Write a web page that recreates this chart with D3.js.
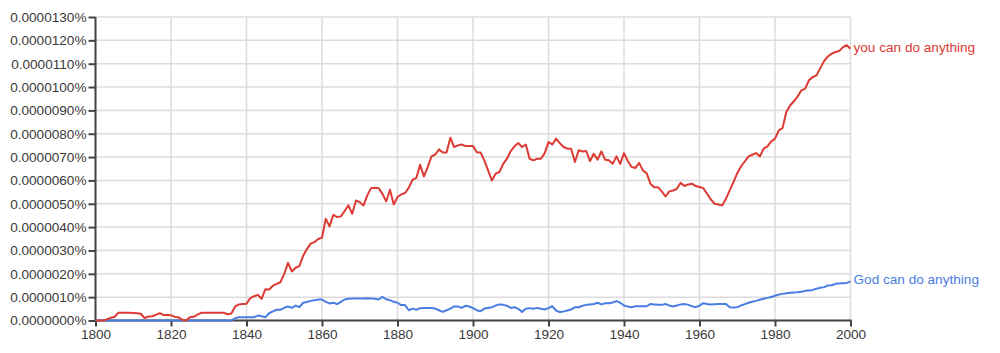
<!DOCTYPE html>
<html>
<head>
<meta charset="utf-8">
<script src="https://cdn.jsdelivr.net/npm/d3@7"></script>
<style>
  body { margin: 0; background: #fff; }
  svg { display: block; font-family: "Liberation Sans", Arial, sans-serif; }
</style>
</head>
<body>
<div id="chart"></div>
<script>
// ngram frequencies, in units of 0.0000010 %
var years = d3.range(1800, 2001)

var youCan = [
  0, 0, 0, 0.05, 0.12, 0.15, 0.33, 0.33, 0.33, 0.33,
  0.32, 0.31, 0.29, 0.10, 0.17, 0.18, 0.24, 0.31, 0.24, 0.24,
  0.23, 0.16, 0.13, 0.03, 0.00, 0.14, 0.16, 0.25, 0.33, 0.33,
  0.33, 0.33, 0.33, 0.33, 0.33, 0.27, 0.30, 0.60, 0.69, 0.71,
  0.72, 0.96, 1.04, 1.10, 0.93, 1.34, 1.33, 1.49, 1.57, 1.64,
  2.00, 2.47, 2.10, 2.26, 2.33, 2.77, 3.06, 3.29, 3.36, 3.49,
  3.55, 4.36, 4.03, 4.53, 4.43, 4.46, 4.69, 4.93, 4.57, 5.14,
  5.07, 4.93, 5.36, 5.67, 5.69, 5.67, 5.43, 5.10, 5.60, 4.97,
  5.29, 5.40, 5.46, 5.69, 6.03, 6.11, 6.67, 6.17, 6.57, 7.03,
  7.11, 7.33, 7.20, 7.20, 7.83, 7.43, 7.50, 7.54, 7.47, 7.47,
  7.47, 7.21, 7.20, 6.86, 6.43, 6.00, 6.29, 6.36, 6.71, 6.93,
  7.26, 7.46, 7.60, 7.43, 7.54, 6.93, 6.86, 6.93, 6.93, 7.17,
  7.64, 7.54, 7.79, 7.60, 7.43, 7.36, 7.36, 6.79, 7.29, 7.24,
  7.26, 6.83, 7.14, 6.89, 7.24, 6.89, 6.86, 6.71, 7.03, 6.71,
  7.17, 6.83, 6.58, 6.53, 6.75, 6.43, 6.31, 5.86, 5.71, 5.71,
  5.53, 5.31, 5.53, 5.57, 5.64, 5.90, 5.76, 5.83, 5.86, 5.76,
  5.72, 5.67, 5.43, 5.19, 5.00, 4.97, 4.93, 5.21, 5.57, 5.93,
  6.31, 6.60, 6.81, 7.03, 7.10, 7.17, 7.03, 7.36, 7.46, 7.67,
  7.79, 8.14, 8.24, 8.93, 9.21, 9.39, 9.60, 9.86, 9.93, 10.29,
  10.43, 10.50, 10.81, 11.11, 11.31, 11.43, 11.50, 11.54, 11.71, 11.79,
  11.64
]

var godCan = [
  0, 0, 0, 0, 0, 0, 0, 0, 0, 0,
  0, 0, 0, 0, 0, 0, 0, 0, 0, 0,
  0, 0, 0, 0, 0, 0, 0, 0, 0, 0,
  0, 0, 0, 0, 0, 0, 0, 0.10, 0.14, 0.14,
  0.14, 0.14, 0.14, 0.21, 0.18, 0.14, 0.31, 0.39, 0.46, 0.46,
  0.54, 0.60, 0.54, 0.64, 0.57, 0.76, 0.79, 0.84, 0.87, 0.90,
  0.90, 0.80, 0.73, 0.76, 0.70, 0.80, 0.90, 0.93, 0.94, 0.94,
  0.94, 0.94, 0.95, 0.94, 0.93, 0.90, 1.01, 0.91, 0.87, 0.80,
  0.76, 0.66, 0.66, 0.44, 0.51, 0.46, 0.53, 0.54, 0.54, 0.54,
  0.51, 0.44, 0.37, 0.44, 0.51, 0.60, 0.60, 0.54, 0.63, 0.60,
  0.53, 0.44, 0.40, 0.51, 0.54, 0.57, 0.64, 0.69, 0.67, 0.63,
  0.54, 0.57, 0.50, 0.37, 0.50, 0.53, 0.50, 0.54, 0.50, 0.47,
  0.53, 0.61, 0.43, 0.36, 0.39, 0.43, 0.47, 0.57, 0.57, 0.63,
  0.67, 0.69, 0.71, 0.76, 0.69, 0.74, 0.74, 0.77, 0.83, 0.76,
  0.64, 0.60, 0.57, 0.61, 0.61, 0.61, 0.61, 0.71, 0.69, 0.67,
  0.67, 0.71, 0.64, 0.60, 0.64, 0.69, 0.71, 0.67, 0.61, 0.57,
  0.64, 0.74, 0.71, 0.69, 0.70, 0.71, 0.71, 0.71, 0.57, 0.56,
  0.57, 0.64, 0.70, 0.76, 0.80, 0.84, 0.89, 0.93, 0.97, 1.01,
  1.06, 1.11, 1.14, 1.17, 1.19, 1.20, 1.21, 1.23, 1.27, 1.29,
  1.31, 1.36, 1.40, 1.43, 1.50, 1.51, 1.57, 1.59, 1.60, 1.61,
  1.67
]

var seriesNames = ['God can do anything', 'you can do anything']
var seriesColors = ['#4a7de2', '#dc3a33']

var xTicks = d3.range(1800, 2001, 20)
var yTicks = d3.range(0, 14)

var chartW = 1000, chartH = 353
var plotL = 95.5, plotR = 850.5, plotT = 17, plotB = 320.5
var fontSize = '13.6px'

var svg = d3.select('#chart').append('svg')
    .attr('width', chartW)
    .attr('height', chartH)

var x = d3.scaleLinear().domain([1800, 2000]).range([plotL, plotR])
var y = d3.scaleLinear().domain([0, 13]).range([plotB, plotT])

// grid
var grid = svg.append('g')
grid.selectAll('.hgrid').data(yTicks).enter().append('line')
    .attr('x1', plotL).attr('x2', plotR)
    .attr('y1', d => y(d)).attr('y2', d => y(d))
    .attr('stroke', '#dcdcdc').attr('stroke-width', 1.5)
grid.selectAll('.vgrid').data(xTicks).enter().append('line')
    .attr('x1', d => x(d)).attr('x2', d => x(d))
    .attr('y1', plotT).attr('y2', plotB)
    .attr('stroke', '#dcdcdc').attr('stroke-width', 1.5)

// axes
var yAxis = svg.append('g')
    .attr('transform', 'translate(' + plotL + ',0)')
    .call(d3.axisLeft(y).tickValues(yTicks).tickSize(7).tickPadding(2)
        .tickFormat(d => (d * 1e-6).toFixed(7) + '%'))
var xAxis = svg.append('g')
    .attr('transform', 'translate(0,' + plotB + ')')
    .call(d3.axisBottom(x).tickValues(xTicks).tickSize(6).tickPadding(3)
        .tickFormat(d => d))

;[yAxis, xAxis].forEach(function(a){
    a.select('.domain').attr('stroke', '#444').attr('stroke-width', 2)
    a.selectAll('.tick line').attr('stroke', '#444').attr('stroke-width', 2)
    a.selectAll('.tick text').attr('fill', '#3a3a3a').attr('font-size', fontSize)
        .attr('font-family', '"Liberation Sans", Arial, sans-serif')
})
yAxis.select('.domain').attr('d', 'M0,' + (plotB + 1) + 'V' + plotT)
xAxis.select('.domain').attr('d', 'M' + (plotL - 1) + ',0H' + (plotR + 1))

// lines
var line = d3.line().x((d, i) => x(years[i])).y(d => y(d))

var allSeries = [godCan, youCan]
allSeries.forEach(function(s, k){
    svg.append('path')
        .attr('d', line(s))
        .attr('fill', 'none')
        .attr('stroke', seriesColors[k])
        .attr('stroke-width', 2)
        .attr('stroke-linejoin', 'round')
})

// end labels
allSeries.forEach(function(s, k){
    svg.append('text')
        .attr('x', plotR + 3)
        .attr('y', y(s[s.length - 1]) - 2)
        .attr('dy', '0.35em')
        .attr('fill', seriesColors[k])
        .attr('font-size', fontSize)
        .text(seriesNames[k])
})
</script>
</body>
</html>
